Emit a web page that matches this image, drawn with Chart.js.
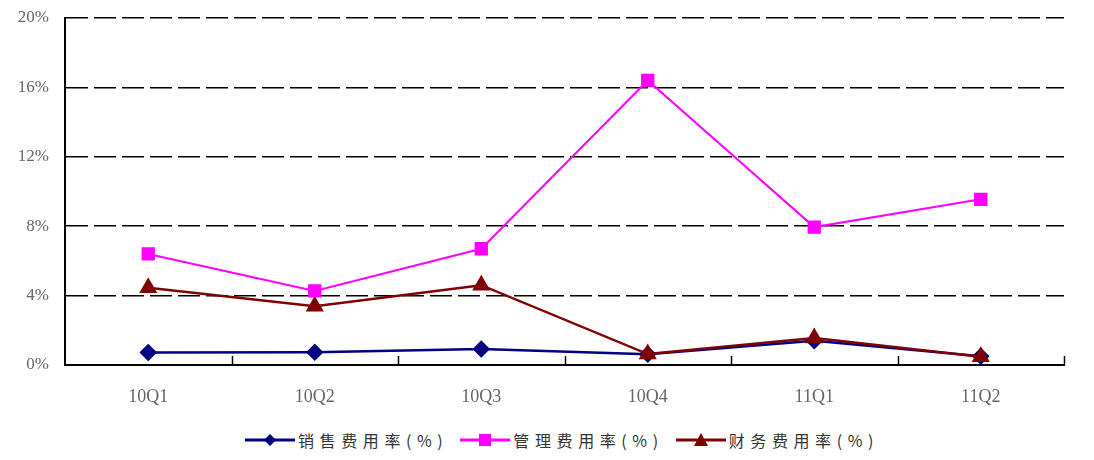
<!DOCTYPE html>
<html>
<head>
<meta charset="utf-8">
<script src="https://cdn.jsdelivr.net/npm/chart.js@4/dist/chart.umd.min.js"></script>
<style>
  html, body { margin: 0; padding: 0; background: #fff; }
  #wrap { position: relative; width: 1094px; height: 460px; }
  #plot { width: 1094px; height: 420px; }
  #legend {
    position: absolute; left: 245px; top: 428px; height: 24px;
    display: flex; align-items: center;
    font-family: "Noto Sans CJK SC", sans-serif; font-size: 16px; color: #333;
  }
  #legend .item { display: flex; align-items: center; margin-right: 12px; }
  #legend .item span { margin-left: 3px; letter-spacing: 5.6px; }
</style>
</head>
<body>
<div id="wrap">
  <div id="plot"><canvas id="expenseChart"></canvas></div>
  <div id="legend"></div>
</div>
<script>
// Data
const quarters = ['10Q1', '10Q2', '10Q3', '10Q4', '11Q1', '11Q2'];
const salesRate = [0.72, 0.73, 0.92, 0.62, 1.4, 0.5];
const adminRate = [6.4, 4.27, 6.7, 16.4, 7.95, 9.55];
const financeRate = [4.45, 3.38, 4.6, 0.63, 1.55, 0.48];
const yTicks = [0, 4, 8, 12, 16, 20];

const seriesNames = ['销售费用率(%)', '管理费用率(%)', '财务费用率(%)'];
const seriesColors = ['#000080', '#FF00FF', '#800000'];
const legendShapes = ['diamond', 'square', 'triangle'];

// Small legend icon: line with the marker in the middle
function legendIcon(color, shape) {
  const c = document.createElement('canvas');
  c.width = 50; c.height = 16;
  const ctx = c.getContext('2d');
  ctx.strokeStyle = color;
  ctx.lineWidth = 3;
  ctx.beginPath(); ctx.moveTo(0, 8); ctx.lineTo(50, 8); ctx.stroke();
  ctx.fillStyle = color;
  ctx.beginPath();
  if (shape === 'diamond') {
    ctx.moveTo(25, 2); ctx.lineTo(31, 8); ctx.lineTo(25, 14); ctx.lineTo(19, 8);
  } else if (shape === 'square') {
    ctx.rect(19, 2, 12, 12);
  } else {
    ctx.moveTo(25, 1); ctx.lineTo(32, 14); ctx.lineTo(18, 14);
  }
  ctx.closePath(); ctx.fill();
  return c;
}

// Short tick marks on the x axis pointing into the plot, between categories
const innerTicks = {
  id: 'innerTicks',
  afterDatasetsDraw(chart) {
    const xs = chart.scales.x, ctx = chart.ctx;
    const bottom = chart.chartArea.bottom;
    const half = (xs.getPixelForTick(1) - xs.getPixelForTick(0)) / 2;
    ctx.save();
    ctx.strokeStyle = '#000';
    ctx.lineWidth = 1.5;
    for (let i = 0; i < quarters.length; i++) {
      const x = Math.round(xs.getPixelForTick(i) + half) + 0.5;
      ctx.beginPath(); ctx.moveTo(x, bottom); ctx.lineTo(x, bottom - 9); ctx.stroke();
    }
    ctx.restore();
  }
};

const chart = new Chart(document.getElementById('expenseChart'), {
  type: 'line',
  data: {
    labels: quarters,
    datasets: [
      {
        label: seriesNames[0],
        data: salesRate,
        borderColor: seriesColors[0],
        backgroundColor: seriesColors[0],
        borderWidth: 2.5,
        pointStyle: 'rectRot',
        pointRadius: 7,
        pointHoverRadius: 7,
        tension: 0,
        order: 3
      },
      {
        label: seriesNames[1],
        data: adminRate,
        borderColor: seriesColors[1],
        backgroundColor: seriesColors[1],
        borderWidth: 2,
        pointStyle: 'rect',
        pointRadius: 8,
        pointHoverRadius: 8,
        tension: 0,
        order: 1
      },
      {
        label: seriesNames[2],
        data: financeRate,
        borderColor: seriesColors[2],
        backgroundColor: seriesColors[2],
        borderWidth: 2.5,
        pointStyle: 'triangle',
        pointRadius: 8,
        pointHoverRadius: 8,
        tension: 0,
        order: 2
      }
    ]
  },
  options: {
    responsive: true,
    maintainAspectRatio: false,
    animation: false,
    layout: { padding: { left: 0, right: 30, top: 18, bottom: 0 } },
    scales: {
      x: {
        offset: true,
        grid: { display: false },
        border: { display: true, color: '#000', width: 2 },
        ticks: {
          color: '#666',
          padding: 13,
          font: { family: '"Liberation Serif", serif', size: 18 }
        },
        afterFit(scale) { scale.height = 55; }
      },
      y: {
        min: 0,
        max: 20,
        afterBuildTicks(scale) { scale.ticks = yTicks.map(v => ({ value: v })); },
        grid: {
          color: '#000',
          lineWidth: 1.5,
          drawTicks: false
        },
        border: { display: true, color: '#000', width: 2, dash: [22, 6] },
        ticks: {
          color: '#666',
          padding: 16,
          font: { family: '"Liberation Serif", serif', size: 17 },
          callback: v => v + '%'
        },
        afterFit(scale) {
          scale.width = 65;
          scale.paddingTop = 0;
          scale.paddingBottom = 0;
        }
      }
    },
    plugins: {
      legend: { display: false },
      tooltip: { enabled: false }
    }
  },
  plugins: [innerTicks]
});

// HTML legend built from the dataset names
const legendBox = document.getElementById('legend');
chart.data.datasets.forEach((ds, i) => {
  const item = document.createElement('div');
  item.className = 'item';
  item.appendChild(legendIcon(seriesColors[i], legendShapes[i]));
  const label = document.createElement('span');
  label.textContent = ds.label;
  item.appendChild(label);
  legendBox.appendChild(item);
});
</script>
</body>
</html>
